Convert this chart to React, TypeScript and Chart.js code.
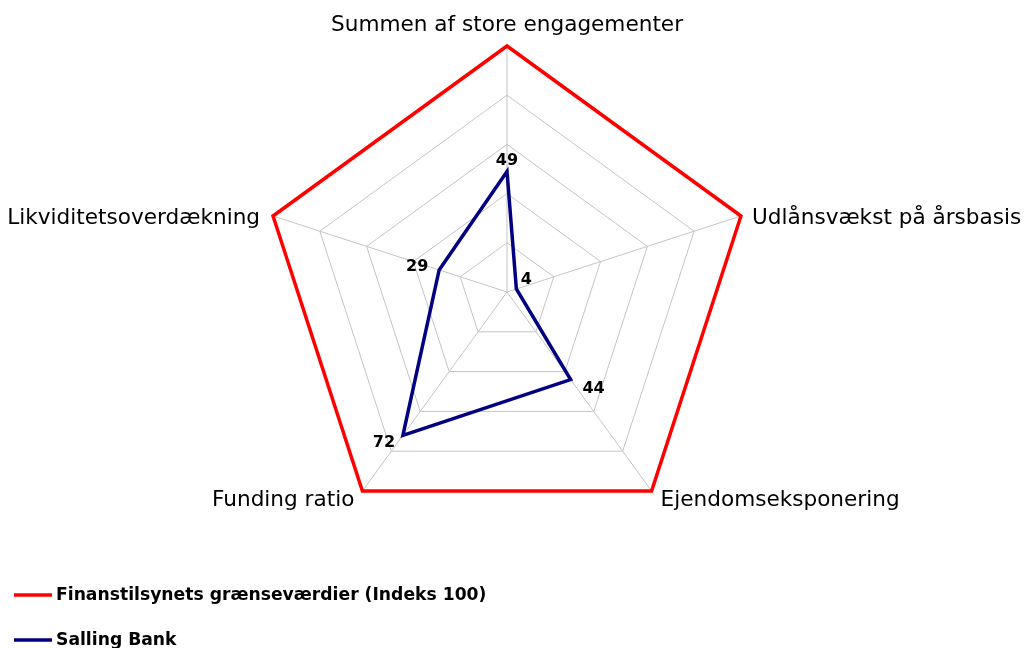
import React, { useEffect, useRef } from "react";
import { Chart, registerables } from "chart.js";

Chart.register(...registerables);

const categories = [
  "Summen af store engagementer",
  "Udlånsvækst på årsbasis",
  "Ejendomseksponering",
  "Funding ratio",
  "Likviditetsoverdækning",
];
const limitLabel = "Finanstilsynets grænseværdier (Indeks 100)";
const limitValues = [100, 100, 100, 100, 100];
const bankLabel = "Salling Bank";
const bankValues = [49, 4, 44, 72, 29];

const LABEL_OFFSETS = [
  [0, -11],
  [10, -9],
  [23, 9],
  [-19, 8],
  [-22, -3],
];

const FONT = "'DejaVu Sans', Verdana, sans-serif";

const overlayPlugin = {
  id: "overlay",
  afterDraw(chart: any) {
    const ctx = chart.ctx;
    const scale = chart.scales.r;
    ctx.save();
    // axis (point) labels
    ctx.fillStyle = "#000";
    ctx.font = `21.6px ${FONT}`;
    categories.forEach((c, i) => {
      const angle = scale.getIndexAngle(i);
      const s = Math.sin(angle);
      const co = Math.cos(angle);
      const v = scale.getPointPosition(i, scale.drawingArea);
      if (co > 0.9) {
        ctx.textAlign = "center";
        ctx.textBaseline = "alphabetic";
        ctx.fillText(c, v.x, v.y - 15);
        return;
      }
      ctx.textBaseline = "middle";
      if (s > 0) {
        ctx.textAlign = "left";
        ctx.fillText(c, v.x + (co > 0 ? 11 : 9), v.y + (co > 0 ? 2 : 9));
      } else {
        ctx.textAlign = "right";
        ctx.fillText(c, v.x - (co > 0 ? 13 : 8), v.y + (co > 0 ? 2 : 9));
      }
    });
    // data labels
    const meta = chart.getDatasetMeta(1);
    ctx.font = `bold 16px ${FONT}`;
    ctx.textAlign = "center";
    ctx.textBaseline = "middle";
    meta.data.forEach((pt: any, i: number) => {
      const o = LABEL_OFFSETS[i];
      ctx.fillText(String(bankValues[i]), pt.x + o[0], pt.y + o[1]);
    });
    // legend
    const items = chart.data.datasets;
    const ys = [595, 640];
    items.forEach((d: any, i: number) => {
      const y = ys[i];
      ctx.strokeStyle = d.borderColor;
      ctx.lineWidth = 3.5;
      ctx.beginPath();
      ctx.moveTo(14, y);
      ctx.lineTo(52, y);
      ctx.stroke();
      ctx.fillStyle = "#000";
      ctx.font = `bold 17.2px ${FONT}`;
      ctx.textAlign = "left";
      ctx.textBaseline = "middle";
      ctx.fillText(d.label, 56, y + 1);
    });
    ctx.restore();
  },
};

export default function App() {
  const ref = useRef<HTMLCanvasElement>(null);
  useEffect(() => {
    document.body.style.margin = "0";
    const chart = new Chart(ref.current as HTMLCanvasElement, {
      type: "radar",
      data: {
        labels: categories,
        datasets: [
          {
            label: limitLabel,
            data: limitValues,
            borderColor: "#ff0000",
            borderWidth: 3.5,
            fill: false,
            pointRadius: 0,
            pointHoverRadius: 0,
            tension: 0,
          },
          {
            label: bankLabel,
            data: bankValues,
            borderColor: "#000080",
            borderWidth: 3.5,
            fill: false,
            pointRadius: 0,
            pointHoverRadius: 0,
            tension: 0,
          },
        ],
      },
      options: {
        responsive: false,
        animation: false,
        layout: { padding: { top: 46, bottom: 110, left: 0, right: 11 } },
        plugins: { legend: { display: false }, tooltip: { enabled: false } },
        scales: {
          r: {
            min: 0,
            max: 100,
            ticks: { display: false, stepSize: 20 },
            grid: { color: "#c4c4c4", lineWidth: 1 },
            angleLines: { color: "#c4c4c4", lineWidth: 1 },
            pointLabels: { display: false },
          },
        },
      },
      plugins: [overlayPlugin],
    });
    return () => chart.destroy();
  }, []);
  return (
    <div style={{ position: "absolute", left: 0, top: 0, width: 1025, height: 648 }}>
      <canvas ref={ref} width={1025} height={648} />
    </div>
  );
}
